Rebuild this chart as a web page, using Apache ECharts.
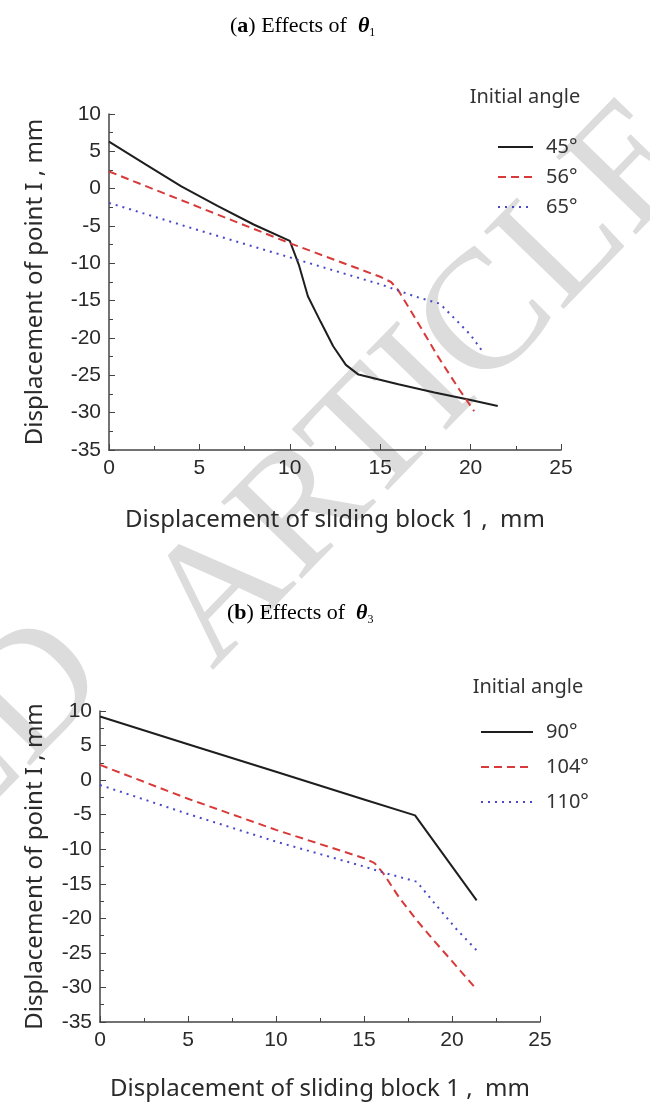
<!DOCTYPE html>
<html>
<head>
<meta charset="utf-8">
<script src="https://cdn.jsdelivr.net/npm/echarts@6/dist/echarts.min.js"></script>
<style>
  body{margin:0;background:#fff;}
  #main{width:650px;height:1106px;}
</style>
</head>
<body>
<div id="main"></div>
<script>
// (a) effects of theta1 : [x, y] pairs
var a45 = [[0,6.3],[2,3.3],[4,0.3],[6,-2.3],[8,-4.8],[10,-7.0],[10.5,-10.2],[11,-14.4],[11.7,-17.8],[12.4,-21.1],[13.1,-23.6],[13.8,-24.9],[16,-26.2],[18,-27.3],[20,-28.3],[21.5,-29.1]];
var a56 = [[0,2.3],[5,-2.5],[10,-7.3],[15,-11.8],[15.6,-12.5],[16,-13.6],[17,-17.6],[18.2,-22.5],[19.4,-27.0],[20.2,-29.8]];
var a65 = [[0,-1.9],[5,-5.6],[10,-9.2],[15,-12.8],[17,-14.5],[18.3,-15.4],[19.2,-17.6],[20,-19.6],[20.6,-21.6]];
// (b) effects of theta3
var b90 = [[0,9.2],[5,5.2],[10,1.2],[15,-2.8],[17.9,-5.1],[21.4,-17.4]];
var b104 = [[0,2.2],[5,-2.7],[10,-7.2],[15,-11.3],[15.6,-12.0],[16.1,-13.5],[17,-17.0],[18,-20.3],[19,-23.3],[20,-26.2],[21.3,-30.0]];
var b110 = [[0,-0.7],[5,-4.9],[10,-8.9],[15,-12.5],[16,-13.3],[18,-14.7],[19,-17.8],[20.3,-21.7],[21.5,-24.9]];

var namesA = ['45°','56°','65°'];
var namesB = ['90°','104°','110°'];
var xMin = 0, xMax = 25, xStep = 5;
var yMin = -35, yMax = 10, yStep = 5;

var tickFont = 'Liberation Sans';
var textFont = 'Noto Sans';
var axisColor = '#444';

function xAxisCfg(idx, gap){
  return {
    type:'value', gridIndex:idx, min:xMin, max:xMax, interval:xStep,
    name:'Displacement of sliding block 1 ,  mm', nameLocation:'middle', nameGap:gap,
    nameTextStyle:{fontFamily:textFont, fontSize:24, color:'#2a2a2a'},
    axisLine:{onZero:false, lineStyle:{color:axisColor, width:1.5}},
    axisTick:{inside:true, length:6, lineStyle:{color:axisColor}},
    minorTick:{show:true, splitNumber:2, length:4, lineStyle:{color:axisColor}},
    axisLabel:{fontFamily:tickFont, fontSize:21, color:'#2a2a2a', margin:8},
    splitLine:{show:false}
  };
}
function yAxisCfg(idx, gap){
  return {
    type:'value', gridIndex:idx, min:yMin, max:yMax, interval:yStep,
    name:'Displacement of point I , mm', nameLocation:'middle', nameGap:gap, nameRotate:90,
    nameTextStyle:{fontFamily:textFont, fontSize:24, color:'#2a2a2a'},
    axisLine:{show:true, onZero:false, lineStyle:{color:axisColor, width:1.5}},
    axisTick:{inside:true, length:6, lineStyle:{color:axisColor}},
    minorTick:{show:true, splitNumber:2, length:4, lineStyle:{color:axisColor}},
    axisLabel:{fontFamily:tickFont, fontSize:21, color:'#2a2a2a', margin:8},
    splitLine:{show:false}
  };
}
function lineSeries(name, idx, data, color, type, width){
  return {
    name:name, type:'line', xAxisIndex:idx, yAxisIndex:idx, data:data,
    symbol:'none', smooth:false, z:3,
    lineStyle:{color:color, type:type, width:width},
    itemStyle:{color:color}
  };
}
function legendCfg(names, left, top, w, gap){
  return {
    data:names, orient:'vertical', left:left, top:top, itemWidth:w, itemHeight:14, itemGap:gap,
    itemStyle:{opacity:0},
    textStyle:{fontFamily:textFont, fontSize:20, color:'#333', lineHeight:20, padding:[0,0,0,8]}
  };
}
var titleRich = {
  b:{fontFamily:'Liberation Serif', fontSize:22, fontWeight:'bold', color:'#000'},
  t:{fontFamily:'Liberation Serif', fontSize:22, fontWeight:'bold', fontStyle:'italic', color:'#000'},
  s:{fontFamily:'Liberation Serif', fontSize:12, color:'#000', lineHeight:12, verticalAlign:'bottom'}
};
var wmFont = '170px "Liberation Serif"';

var chart = echarts.init(document.getElementById('main'), null, {renderer:'canvas'});
var option = {
  backgroundColor:'#fff',
  animation:false,
  title:[
    {text:'({b|a}) Effects of  {t|θ}{s|1}', left:225, top:8,
     textStyle:{fontFamily:'Liberation Serif', fontSize:22, fontWeight:'normal', color:'#000', lineHeight:26, rich:titleRich}},
    {text:'({b|b}) Effects of  {t|θ}{s|3}', left:222, top:595,
     textStyle:{fontFamily:'Liberation Serif', fontSize:22, fontWeight:'normal', color:'#000', lineHeight:26, rich:titleRich}}
  ],
  graphic:[
    {type:'text', x:180, y:640, rotation:0.8, z:-10, silent:true,
     style:{text:'ARTICLE', align:'left', verticalAlign:'middle', font:wmFont, fill:'#dcdcdc'}},
    {type:'text', x:80, y:650, rotation:0.8, z:-10, silent:true,
     style:{text:'RETRACTED', align:'right', verticalAlign:'middle', font:wmFont, fill:'#dcdcdc'}},
    {type:'text', x:525, y:97, z:5,
     style:{text:'Initial angle', align:'center', verticalAlign:'middle', font:'20px "Noto Sans"', fill:'#333'}},
    {type:'text', x:528, y:687, z:5,
     style:{text:'Initial angle', align:'center', verticalAlign:'middle', font:'20px "Noto Sans"', fill:'#333'}}
  ],
  legend:[
    legendCfg(namesA, 492, 132, 35, 10),
    legendCfg(namesB, 475, 717, 52, 15)
  ],
  grid:[
    {left:109, top:114, width:452, height:336, containLabel:false},
    {left:100, top:711, width:440, height:311, containLabel:false}
  ],
  xAxis:[xAxisCfg(0, 58), xAxisCfg(1, 55)],
  yAxis:[yAxisCfg(0, 62), yAxisCfg(1, 53)],
  series:[
    lineSeries(namesA[0], 0, a45, '#1e1e1e', 'solid', 2),
    lineSeries(namesA[1], 0, a56, '#d83a3a', [8,5], 2),
    lineSeries(namesA[2], 0, a65, '#4848c8', [2,5], 2),
    lineSeries(namesB[0], 1, b90, '#1e1e1e', 'solid', 2),
    lineSeries(namesB[1], 1, b104, '#d83a3a', [8,5], 2),
    lineSeries(namesB[2], 1, b110, '#4848c8', [2,5], 2)
  ]
};
chart.setOption(option);
</script>
</body>
</html>
